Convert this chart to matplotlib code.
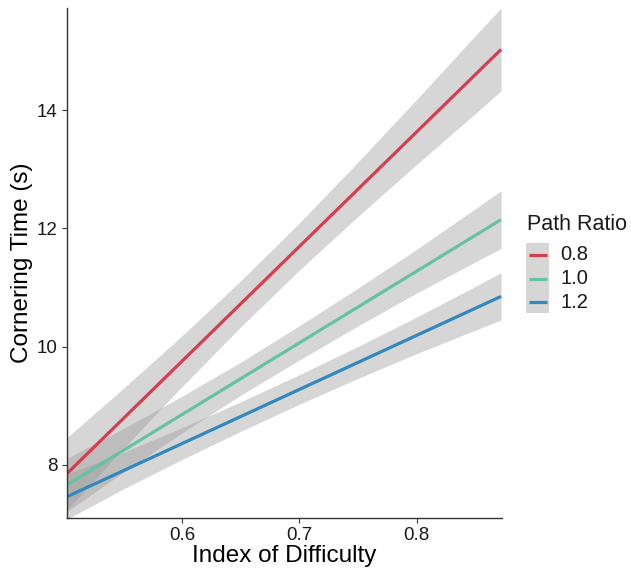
import matplotlib
matplotlib.use("Agg")
import matplotlib.pyplot as plt
from matplotlib.patches import Rectangle
from matplotlib.lines import Line2D

plt.rcParams['font.family'] = ['Liberation Sans', 'DejaVu Sans']

# Fitted lines per path ratio: value at the two ends of the x range
x_ends = [0.502, 0.872]
ratios = ["0.8", "1.0", "1.2"]
fit_ends = {
    "0.8": [7.85, 15.03],
    "1.0": [7.66, 12.15],
    "1.2": [7.46, 10.85],
}

# Confidence band half-widths read at a handful of x positions
band_x = [0.502, 0.55, 0.6, 0.65, 0.7, 0.75, 0.8, 0.85, 0.872]
band_half = {
    "0.8": [0.61, 0.51, 0.43, 0.39, 0.40, 0.46, 0.55, 0.66, 0.70],
    "1.0": [0.45, 0.37, 0.31, 0.28, 0.29, 0.32, 0.37, 0.45, 0.49],
    "1.2": [0.38, 0.31, 0.27, 0.25, 0.25, 0.27, 0.31, 0.37, 0.40],
}
colors = {"0.8": "#D53E4F", "1.0": "#66C2A5", "1.2": "#3288BD"}

W, H = 631, 573


def line_at(r, xs):
    (x0, x1), (y0, y1) = x_ends, fit_ends[r]
    return [y0 + (y1 - y0) * (x - x0) / (x1 - x0) for x in xs]


def fx(px):
    return px / W


def fy(py):
    return 1 - py / H


fig = plt.figure(figsize=(W / 100, H / 100), dpi=100)
ax = fig.add_axes([0.106, 0.096, 0.690, 0.890])

for r in ratios:
    mid = line_at(r, band_x)
    lo = [m - h for m, h in zip(mid, band_half[r])]
    hi = [m + h for m, h in zip(mid, band_half[r])]
    ax.fill_between(band_x, lo, hi, color="#999999", alpha=0.4, lw=0)
for r in ratios:
    ax.plot(x_ends, line_at(r, x_ends), color=colors[r], lw=2.3,
            solid_capstyle="butt")

ax.set_xlim(0.502, 0.873)
ax.set_ylim(7.1, 15.73)
ax.set_xticks([0.6, 0.7, 0.8])
ax.set_yticks([8, 10, 12, 14])
ax.set_xlabel("Index of Difficulty", fontsize=17.5, labelpad=1)
ax.set_ylabel("Cornering Time (s)", fontsize=17.5, labelpad=3)
ax.tick_params(labelsize=13.5, length=3.5, width=0.8, color="#333333",
               labelcolor="#1a1a1a", pad=3)
for side in ("top", "right"):
    ax.spines[side].set_visible(False)
for side in ("left", "bottom"):
    ax.spines[side].set_color("#333333")
    ax.spines[side].set_linewidth(1.0)

# legend: title, one grey key column, coloured key lines and labels
fig.text(fx(527), fy(224), "Path Ratio", fontsize=15.5, va="center",
         ha="left", color="#1a1a1a")
fig.patches.append(Rectangle((fx(526), fy(313)), fx(549) - fx(526),
                             fy(243) - fy(313), transform=fig.transFigure,
                             fc="#999999", alpha=0.4, lw=0))
key_y = [255, 279, 302]
for r, ky in zip(ratios, key_y):
    fig.lines.append(Line2D([fx(529), fx(547)], [fy(ky), fy(ky)],
                            transform=fig.transFigure, color=colors[r],
                            lw=2.3, solid_capstyle="butt"))
    fig.text(fx(560), fy(ky), r, fontsize=14.5, va="center", ha="left",
             color="#1a1a1a")

fig.savefig("out.png", dpi=100)
